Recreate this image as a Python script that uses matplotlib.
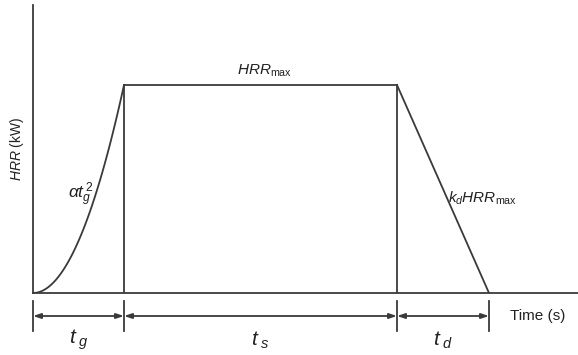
import matplotlib.pyplot as plt
import numpy as np

plt.rcParams['font.family'] = ['Liberation Sans', 'DejaVu Sans']
plt.rcParams['mathtext.fontset'] = 'custom'
plt.rcParams['mathtext.rm'] = 'Liberation Sans'
plt.rcParams['mathtext.it'] = 'Liberation Sans:italic'

# phase durations (arbitrary time units) and peak heat release rate
phases = ['g', 's', 'd']
durations = [91, 273, 92]
hrr_max = 208

t_g, t_s, t_d = durations
t1 = t_g
t2 = t_g + t_s
t3 = t_g + t_s + t_d

ink = '#3a3a3a'
lw = 1.3

fig = plt.figure(figsize=(5.78, 3.55), dpi=100)
ax = fig.add_axes([33 / 578, 62 / 355, 545 / 578, 288 / 355])
ax.set_xlim(0, 545)
ax.set_ylim(0, 288)

# t-squared growth, steady plateau, linear decay
tg = np.linspace(0, t1, 60)
alpha = hrr_max / t1 ** 2
ax.plot(tg, alpha * tg ** 2, color=ink, lw=lw)
ax.plot([t1, t1], [hrr_max, 0], color=ink, lw=lw)
ax.plot([t1, t2], [hrr_max, hrr_max], color=ink, lw=lw)
ax.plot([t2, t2], [hrr_max, 0], color=ink, lw=lw)
ax.plot([t2, t3], [hrr_max, 0], color=ink, lw=lw)

for s in ['top', 'right']:
    ax.spines[s].set_visible(False)
for s in ['left', 'bottom']:
    ax.spines[s].set_color(ink)
    ax.spines[s].set_linewidth(lw)
ax.set_xticks([])
ax.set_yticks([])

ax.text(-16, 144, r'$HRR$ (kW)', rotation=90, ha='center', va='center',
        fontsize=10, color='#222')
ax.text(48, 98, r'$\alpha t_g^{\,2}$', ha='center', va='center',
        fontsize=12.5, color='#222')
ax.text((t1 + t2) / 2 + 4, hrr_max + 14, r'$HRR_{\mathrm{max}}$',
        ha='center', va='center', fontsize=11, color='#222')
ax.text(450, 95, r'$k_d HRR_{\mathrm{max}}$', ha='center', va='center',
        fontsize=11, color='#222')

# dimension lines under the time axis
bounds = [0, t1, t2, t3]
y_dim = -23
for x in bounds:
    ax.plot([x, x], [-8, -38], color=ink, lw=lw, clip_on=False)
for i, name in enumerate(phases):
    a, b = bounds[i], bounds[i + 1]
    ax.annotate('', xy=(a, y_dim), xytext=(b, y_dim),
                arrowprops=dict(arrowstyle='<|-|>,head_length=0.45,head_width=0.15',
                                color=ink, lw=lw, shrinkA=0, shrinkB=0),
                annotation_clip=False)
    ax.text((a + b) / 2, -47, rf'$t_{{\ {name}}}$', ha='center', va='center',
            fontsize=15, color='#222')

ax.text(477, y_dim, 'Time (s)', ha='left', va='center', fontsize=11, color='#222')

fig.savefig('out.png', dpi=100)
